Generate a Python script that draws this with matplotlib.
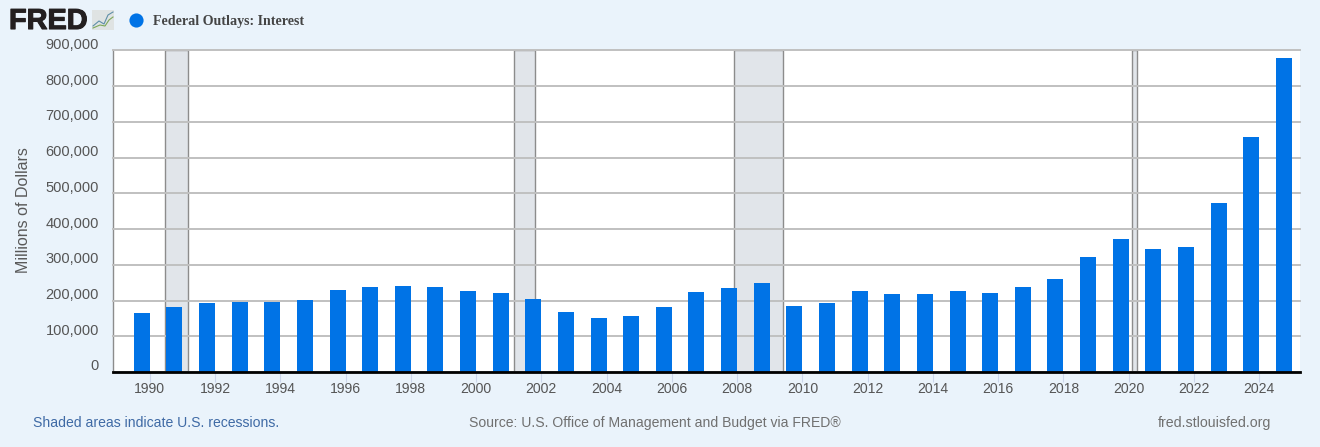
import matplotlib
matplotlib.use('Agg')
import matplotlib.pyplot as plt
import matplotlib.patheffects as pe
from matplotlib.lines import Line2D
from matplotlib.patches import Rectangle
from matplotlib.transforms import ScaledTranslation

W, H = 1320, 447

years = list(range(1990, 2026))
outlays = [165000, 182000, 193000, 195000, 195000, 201000, 229000, 238000, 241000,
           238000, 227000, 221000, 204000, 168000, 151000, 157000, 182000, 224000,
           235000, 249000, 185000, 193000, 227000, 218000, 218000, 227000, 221000,
           238000, 260000, 322000, 372000, 344000, 350000, 473000, 657000, 878000]

recessions = [(1990.48, 1991.16), (2001.15, 2001.82), (2007.91, 2009.41), (2020.11, 2020.27)]
x_ticks = list(range(1990, 2025, 2))
y_ticks = list(range(0, 900001, 100000))

BG = '#eaf3fb'
BLUE = '#0073e6'
plt.rcParams['font.family'] = ['Liberation Sans', 'DejaVu Sans']


def px(x, y):
    # pixeles de la imagen a coordenadas de la figura
    return x / W, 1 - y / H


fig = plt.figure(figsize=(W / 100, H / 100), dpi=100, facecolor=BG)
ax = fig.add_axes([113 / W, (H - 372) / H, 1187 / W, 321.75 / H], facecolor='white')

# Recesiones
for start, end in recessions:
    ax.axvspan(start, end, facecolor='#e1e5ea', edgecolor='#8c8c8c', linewidth=1.0, zorder=1)

ax.bar(years, outlays, width=-16 / 32.63, align='edge', color=BLUE, zorder=3)

ax.set_xlim(1988.875, 2025.25)
ax.set_ylim(0, 900000)
ax.set_xticks(x_ticks)
ax.set_yticks(y_ticks)
ax.set_yticklabels([f'{v:,}' for v in y_ticks])
ax.grid(axis='y', color='#c0c0c0', linewidth=1.4, zorder=2)
ax.set_axisbelow(False)
for line in ax.get_ygridlines():
    line.set_zorder(2)
    line.set_clip_on(False)

ax.tick_params(axis='x', length=7, width=0.8, color='#ccd6eb', labelsize=10.1,
               labelcolor='#555555', pad=0.5)
ax.tick_params(axis='y', length=0, labelsize=10.5, labelcolor='#555555', pad=10)

# Las etiquetas del eje y van un poco por encima de la linea
offset = ScaledTranslation(0, 7 / 100, fig.dpi_scale_trans)
for label in ax.get_yticklabels():
    label.set_transform(label.get_transform() + offset)

for side in ['top', 'right']:
    ax.spines[side].set_visible(False)
ax.spines['left'].set_color('#8c8c8c')
ax.spines['left'].set_linewidth(1.0)
ax.spines['bottom'].set_color('black')
ax.spines['bottom'].set_linewidth(2)
ax.spines['bottom'].set_zorder(5)

fig.text(*px(24, 210.5), 'Millions of Dollars', rotation=90, ha='center', va='center',
         fontsize=11.5, color='#595959')

# Cabecera: logo y leyenda
fred = fig.text(*px(9, 21), 'FRED', fontsize=20.8, fontweight='bold', color='#231f20', ha='left', va='center')
fred.set_path_effects([pe.withStroke(linewidth=0.8, foreground='#231f20')])
fig.add_artist(Rectangle(px(92, 30), 22 / W, 20 / H, transform=fig.transFigure,
                         facecolor='#dfe3e3', edgecolor='none'))
fig.add_artist(Line2D([px(93, 0)[0], px(99, 0)[0], px(104, 0)[0], px(108, 0)[0], px(113, 0)[0]],
                      [px(0, 26)[1], px(0, 21)[1], px(0, 24)[1], px(0, 15)[1], px(0, 12)[1]],
                      transform=fig.transFigure, color='#5f8fa8', linewidth=0.8))
fig.add_artist(Line2D([px(93, 0)[0], px(100, 0)[0], px(105, 0)[0], px(109, 0)[0], px(113, 0)[0]],
                      [px(0, 28)[1], px(0, 25)[1], px(0, 26)[1], px(0, 20)[1], px(0, 17)[1]],
                      transform=fig.transFigure, color='#7da85a', linewidth=0.8))
fig.add_artist(Line2D([px(135.5, 0)[0]], [px(0, 20)[1]], transform=fig.transFigure, marker='o',
                      markersize=10.2, color=BLUE, markeredgewidth=0))
fig.text(*px(153, 21.5), 'Federal Outlays: Interest', family=['Liberation Serif', 'DejaVu Serif'],
         fontweight='bold', fontsize=10.1, color='#444444', ha='left', va='center')

# Pie
fig.text(*px(33, 423), 'Shaded areas indicate U.S. recessions.', fontsize=10.05, color='#3f6aa5',
         ha='left', va='center')
fig.text(*px(469, 423), 'Source: U.S. Office of Management and Budget via FRED®', fontsize=10.05,
         color='#707070', ha='left', va='center')
fig.text(*px(1158, 423), 'fred.stlouisfed.org', fontsize=10.15, color='#707070', ha='left', va='center')

fig.savefig('out.png', dpi=100, facecolor=BG)
